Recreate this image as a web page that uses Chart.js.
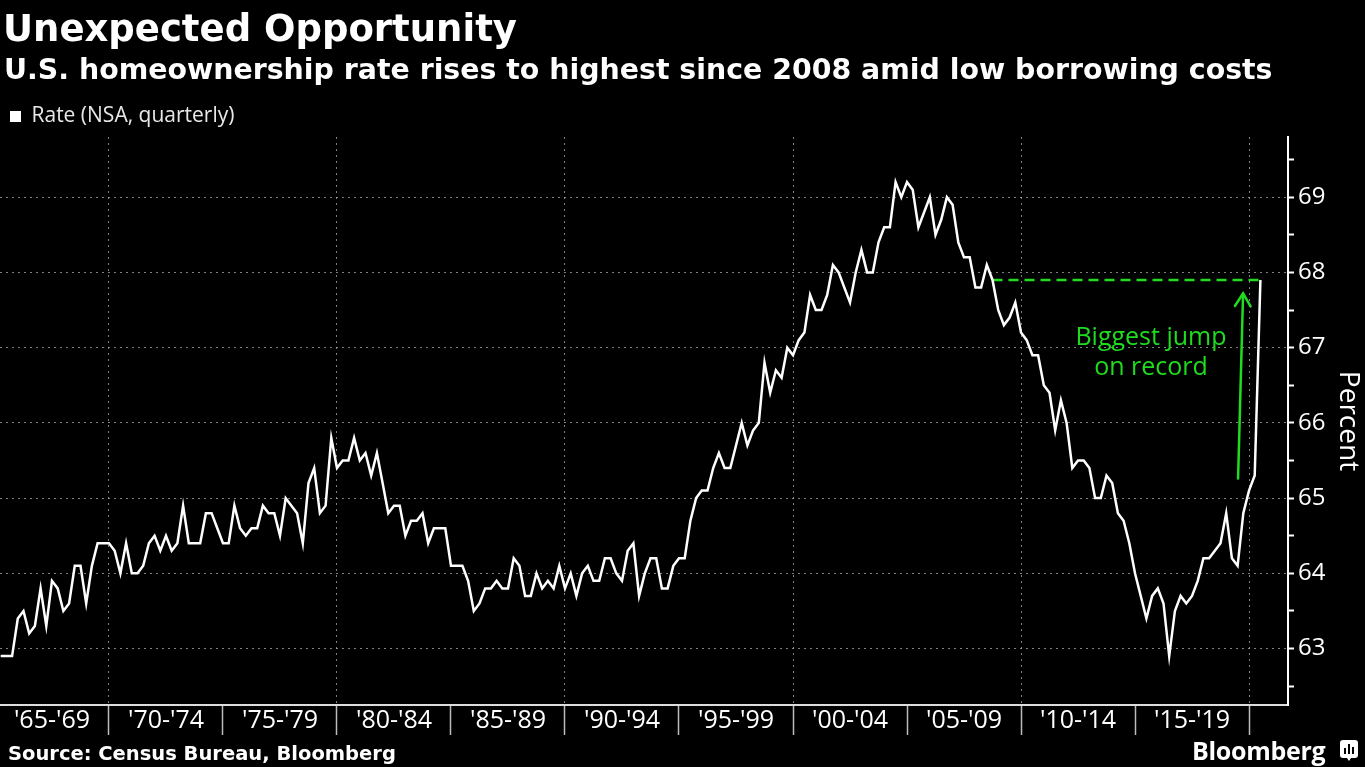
<!DOCTYPE html>
<html>
<head>
<meta charset="utf-8">
<script src="https://cdn.jsdelivr.net/npm/chart.js@4/dist/chart.umd.min.js"></script>
<style>
  html, body { margin: 0; padding: 0; background: #000; }
  body { width: 1365px; height: 767px; position: relative; overflow: hidden; }
  #wrap { position: absolute; left: 0; top: 0; width: 1365px; height: 767px; }
  .txt { position: absolute; color: #fff; white-space: nowrap; line-height: 1; z-index: 2; }
  #title { left: 3px; top: 7px; font: bold 37px "DejaVu Sans"; }
  #subtitle { left: 4px; top: 53px; font: bold 28.4px "DejaVu Sans"; }
  #source { left: 8px; top: 742px; font: bold 19.5px "DejaVu Sans"; }
  #brand { left: 1192px; top: 733px; font: bold 25px "Open Sans"; letter-spacing: -0.3px; }
  #icon { position: absolute; left: 1340px; top: 740px; z-index: 2; }
</style>
</head>
<body>
<div class="txt" id="title">Unexpected Opportunity</div>
<div class="txt" id="subtitle">U.S. homeownership rate rises to highest since 2008 amid low borrowing costs</div>
<div class="txt" id="source">Source: Census Bureau, Bloomberg</div>
<div class="txt" id="brand">Bloomberg</div>
<svg id="icon" width="18" height="22" viewBox="0 0 18 22">
  <rect x="0" y="0" width="18" height="18" rx="3" fill="#fff"/>
  <path d="M7 18 L9 21 L11 18 Z" fill="#fff"/>
  <rect x="4" y="8" width="2" height="6" fill="#000"/>
  <rect x="8" y="4" width="2" height="10" fill="#000"/>
  <rect x="12" y="7" width="2" height="7" fill="#000"/>
</svg>
<div id="wrap"><canvas id="chart"></canvas></div>
<script>
// quarterly homeownership rate, NSA, 1965 Q1 .. 2020 Q2
var startYear = 1965;
var rates = [
  62.9, 62.9, 62.9, 63.4,  63.5, 63.2, 63.3, 63.8,  63.3, 63.9, 63.8, 63.5,  63.6, 64.1, 64.1, 63.6,  64.1, 64.4, 64.4, 64.4,
  64.3, 64.0, 64.4, 64.0,  64.0, 64.1, 64.4, 64.5,  64.3, 64.5, 64.3, 64.4,  64.9, 64.4, 64.4, 64.4,  64.8, 64.8, 64.6, 64.4,
  64.4, 64.9, 64.6, 64.5,  64.6, 64.6, 64.9, 64.8,  64.8, 64.5, 65.0, 64.9,  64.8, 64.4, 65.2, 65.4,  64.8, 64.9, 65.8, 65.4,
  65.5, 65.5, 65.8, 65.5,  65.6, 65.3, 65.6, 65.2,  64.8, 64.9, 64.9, 64.5,  64.7, 64.7, 64.8, 64.4,  64.6, 64.6, 64.6, 64.1,
  64.1, 64.1, 63.9, 63.5,  63.6, 63.8, 63.8, 63.9,  63.8, 63.8, 64.2, 64.1,  63.7, 63.7, 64.0, 63.8,  63.9, 63.8, 64.1, 63.8,
  64.0, 63.7, 64.0, 64.1,  63.9, 63.9, 64.2, 64.2,  64.0, 63.9, 64.3, 64.4,  63.7, 64.0, 64.2, 64.2,  63.8, 63.8, 64.1, 64.2,
  64.2, 64.7, 65.0, 65.1,  65.1, 65.4, 65.6, 65.4,  65.4, 65.7, 66.0, 65.7,  65.9, 66.0, 66.8, 66.4,  66.7, 66.6, 67.0, 66.9,
  67.1, 67.2, 67.7, 67.5,  67.5, 67.7, 68.1, 68.0,  67.8, 67.6, 68.0, 68.3,  68.0, 68.0, 68.4, 68.6,  68.6, 69.2, 69.0, 69.2,
  69.1, 68.6, 68.8, 69.0,  68.5, 68.7, 69.0, 68.9,  68.4, 68.2, 68.2, 67.8,  67.8, 68.1, 67.9, 67.5,  67.3, 67.4, 67.6, 67.2,
  67.1, 66.9, 66.9, 66.5,  66.4, 65.9, 66.3, 66.0,  65.4, 65.5, 65.5, 65.4,  65.0, 65.0, 65.3, 65.2,  64.8, 64.7, 64.4, 64.0,
  63.7, 63.4, 63.7, 63.8,  63.6, 62.9, 63.5, 63.7,  63.6, 63.7, 63.9, 64.2,  64.2, 64.3, 64.4, 64.8,  64.2, 64.1, 64.8, 65.1,
  65.3, 67.9
];
var seriesLabel = "Rate (NSA, quarterly)";
var periodStarts = [1965, 1970, 1975, 1980, 1985, 1990, 1995, 2000, 2005, 2010, 2015];
var periodLabels = ["'65-'69", "'70-'74", "'75-'79", "'80-'84", "'85-'89", "'90-'94", "'95-'99", "'00-'04", "'05-'09", "'10-'14", "'15-'19"];
var yTicks = [62.5, 63, 63.5, 64, 64.5, 65, 65.5, 66, 66.5, 67, 67.5, 68, 68.5, 69, 69.5];
var jumpFrom = [2008, 3];   // year, quarter the new high is compared with
var noteLines = ["Biggest jump", "on record"];

var green = "#1fdc1f";
var gridColor = "rgba(170,170,170,0.75)";

// points sit at the end of each quarter
function quarterX(i) {
  return startYear + (i + 1) / 4;
}

var points = rates.map(function (v, i) { return { x: quarterX(i), y: v }; });
var last = rates.length - 1;
var refIdx = (jumpFrom[0] - startYear) * 4 + jumpFrom[1] - 1;
var jumpLine = [
  { x: quarterX(refIdx), y: rates[last] },
  { x: quarterX(last), y: rates[last] }
];

var xTickValues = [];
periodStarts.forEach(function (s) {
  xTickValues.push(s + 2.5);
  xTickValues.push(s + 5);
});

var notePlugin = {
  id: "note",
  afterDatasetsDraw: function (chart) {
    var ctx = chart.ctx;
    var x = chart.scales.x, y = chart.scales.y;
    var x1 = x.getPixelForValue(2019.52), y1 = y.getPixelForValue(65.26);
    var x2 = x.getPixelForValue(2019.74), y2 = y.getPixelForValue(67.72);
    ctx.save();
    ctx.strokeStyle = green;
    ctx.lineWidth = 2.5;
    ctx.lineCap = "round";
    ctx.beginPath();
    ctx.moveTo(x1, y1);
    ctx.lineTo(x2, y2);
    ctx.stroke();
    var ang = Math.atan2(y2 - y1, x2 - x1);
    var len = 15, spread = 0.55;
    ctx.beginPath();
    ctx.moveTo(x2 - len * Math.cos(ang - spread), y2 - len * Math.sin(ang - spread));
    ctx.lineTo(x2, y2);
    ctx.lineTo(x2 - len * Math.cos(ang + spread), y2 - len * Math.sin(ang + spread));
    ctx.stroke();
    ctx.fillStyle = green;
    ctx.font = "25px 'Open Sans'";
    ctx.textAlign = "center";
    ctx.textBaseline = "middle";
    var tx = x.getPixelForValue(2015.7);
    ctx.fillText(noteLines[0], tx, y.getPixelForValue(67.13));
    ctx.fillText(noteLines[1], tx, y.getPixelForValue(66.73));
    ctx.restore();
  }
};

var chart = new Chart(document.getElementById("chart"), {
  type: "line",
  data: {
    datasets: [
      {
        label: seriesLabel,
        data: points,
        borderColor: "#ffffff",
        backgroundColor: "#ffffff",
        borderWidth: 2.5,
        pointRadius: 0,
        tension: 0
      },
      {
        label: "jump",
        data: jumpLine,
        borderColor: green,
        borderWidth: 2.5,
        borderDash: [10, 6],
        pointRadius: 0
      }
    ]
  },
  options: {
    responsive: true,
    maintainAspectRatio: false,
    animation: false,
    layout: { padding: { top: 96, left: 0, right: 0, bottom: 0 } },
    plugins: {
      tooltip: { enabled: false },
      legend: {
        position: "top",
        align: "start",
        labels: {
          color: "#e8e8e8",
          font: { family: "Open Sans", size: 21 },
          boxWidth: 11,
          boxHeight: 11,
          padding: 10,
          generateLabels: function (c) {
            return Chart.defaults.plugins.legend.labels.generateLabels(c)
              .filter(function (it) { return it.datasetIndex === 0; })
              .map(function (it) { it.lineWidth = 0; return it; });
          }
        }
      }
    },
    scales: {
      x: {
        type: "linear",
        min: 1965.22,
        max: 2021.71,
        afterBuildTicks: function (scale) {
          scale.ticks = xTickValues.map(function (v) { return { value: v }; });
        },
        afterFit: function (scale) { scale.height = 62; },
        border: { display: true, color: "#dddddd", width: 2, dash: [2, 4] },
        grid: {
          color: function (c) { return c.tick && c.tick.value % 10 === 0 ? gridColor : "transparent"; },
          tickColor: function (c) { return c.tick && c.tick.value % 5 === 0 ? "#bbbbbb" : "transparent"; },
          lineWidth: 1,
          tickWidth: 1.5,
          tickLength: 30
        },
        ticks: {
          autoSkip: false,
          maxRotation: 0,
          color: "#ffffff",
          font: { family: "Open Sans", size: 25 },
          padding: -29,
          callback: function (v) {
            var i = periodStarts.indexOf(v - 2.5);
            return i >= 0 ? periodLabels[i] : "";
          }
        }
      },
      y: {
        position: "right",
        min: 62.25,
        max: 69.8,
        afterBuildTicks: function (scale) {
          scale.ticks = yTicks.map(function (v) { return { value: v }; });
        },
        afterFit: function (scale) { scale.width = 77; },
        border: { display: true, color: "#ffffff", width: 2, dash: [2, 4] },
        grid: {
          color: function (c) { return c.tick && Number.isInteger(c.tick.value) ? gridColor : "transparent"; },
          tickColor: "#ffffff",
          lineWidth: 1,
          tickWidth: 2,
          tickLength: 6
        },
        ticks: {
          color: "#ffffff",
          font: { family: "Open Sans", size: 24 },
          padding: 4,
          callback: function (v) { return Number.isInteger(v) ? String(v) : ""; }
        },
        title: {
          display: true,
          text: "Percent",
          color: "#ffffff",
          font: { family: "Open Sans", size: 28 },
          padding: { top: 0, bottom: 0 }
        }
      }
    }
  },
  plugins: [notePlugin]
});
</script>
</body>
</html>
